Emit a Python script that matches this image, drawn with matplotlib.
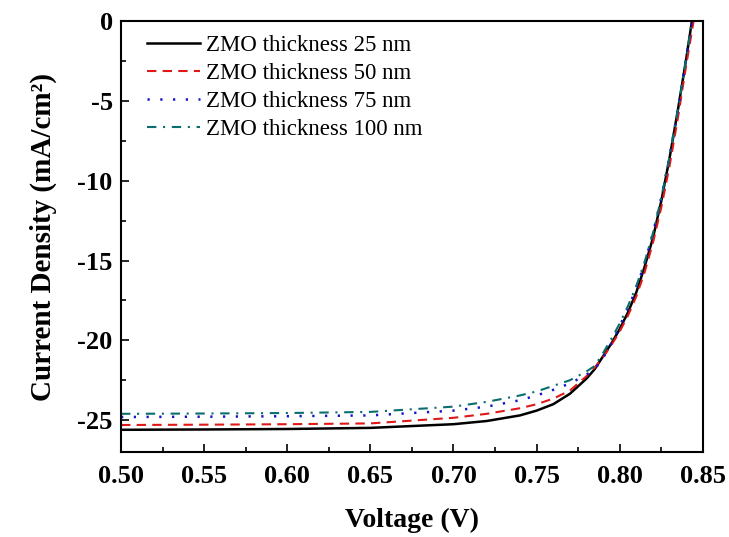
import numpy as np
import matplotlib
matplotlib.use("Agg")
import matplotlib.pyplot as plt
from matplotlib.ticker import MultipleLocator

plt.rcParams['font.family'] = ['Liberation Serif', 'DejaVu Serif']
plt.rcParams['axes.unicode_minus'] = False

# J-V data (V in volts, J in mA/cm2)
v_25 = [0.50, 0.55, 0.60, 0.65, 0.70, 0.72, 0.74, 0.75, 0.76, 0.77, 0.78, 0.785, 0.79,
        0.795, 0.80, 0.805, 0.81, 0.815, 0.82, 0.825, 0.83, 0.835, 0.84, 0.8435]
j_25 = [-25.60, -25.58, -25.55, -25.48, -25.25, -25.05, -24.70, -24.40, -24.00, -23.35,
        -22.40, -21.80, -21.00, -20.20, -19.30, -18.25, -17.00, -15.40, -13.60, -11.30,
        -8.60, -5.60, -2.40, 0.0]

v_50 = [0.50, 0.55, 0.60, 0.65, 0.70, 0.72, 0.74, 0.75, 0.76, 0.77, 0.78, 0.785, 0.79,
        0.795, 0.80, 0.805, 0.81, 0.815, 0.82, 0.825, 0.83, 0.835, 0.84, 0.8445]
j_50 = [-25.30, -25.28, -25.25, -25.20, -24.85, -24.60, -24.25, -24.00, -23.65, -23.15,
        -22.25, -21.70, -21.05, -20.30, -19.45, -18.45, -17.25, -15.75, -13.90, -11.70,
        -9.10, -6.10, -2.80, 0.0]

v_75 = [0.50, 0.55, 0.60, 0.65, 0.70, 0.72, 0.74, 0.75, 0.76, 0.77, 0.78, 0.785, 0.79,
        0.795, 0.80, 0.805, 0.81, 0.815, 0.82, 0.825, 0.83, 0.835, 0.84, 0.8435]
j_75 = [-24.80, -24.78, -24.75, -24.70, -24.40, -24.15, -23.75, -23.45, -23.10, -22.70,
        -22.15, -21.80, -21.10, -20.20, -19.10, -18.05, -16.70, -15.20, -13.30, -11.10,
        -8.50, -5.60, -2.40, 0.0]

v_100 = [0.50, 0.55, 0.60, 0.65, 0.70, 0.72, 0.74, 0.75, 0.76, 0.77, 0.78, 0.785, 0.79,
         0.795, 0.80, 0.805, 0.81, 0.815, 0.82, 0.825, 0.83, 0.835, 0.84, 0.8435]
j_100 = [-24.60, -24.58, -24.55, -24.48, -24.15, -23.85, -23.45, -23.20, -22.85, -22.50,
         -21.95, -21.60, -20.80, -19.90, -18.95, -17.85, -16.60, -15.10, -13.30, -11.10,
         -8.50, -5.60, -2.40, 0.0]

labels = ['ZMO thickness 25 nm', 'ZMO thickness 50 nm',
          'ZMO thickness 75 nm', 'ZMO thickness 100 nm']

fig = plt.figure(figsize=(7.29, 5.37), dpi=100)
ax = fig.add_axes([0.166, 0.158, 0.798, 0.803])

lw = 1.5
ax.plot(v_25, j_25, color='black', lw=1.8, linestyle='-', label=labels[0])
ax.plot(v_50, j_50, color='#e01818', lw=lw, linestyle=(0, (4.5, 3)), label=labels[1])
ax.plot(v_75, j_75, color='#1414c8', lw=1.8, linestyle=(0, (0.9, 4.2)), label=labels[2])
ax.plot(v_100, j_100, color='#0a6e6e', lw=lw, linestyle=(0, (4.5, 3.2, 1, 3.2)),
        label=labels[3])

ax.set_xlim(0.50, 0.85)
ax.set_ylim(-27, 0)
ax.xaxis.set_major_locator(MultipleLocator(0.05))
ax.xaxis.set_minor_locator(MultipleLocator(0.025))
ax.yaxis.set_major_locator(MultipleLocator(5))
ax.yaxis.set_minor_locator(MultipleLocator(2.5))
ax.xaxis.set_major_formatter(plt.FormatStrFormatter('%.2f'))

ax.tick_params(which='major', direction='in', length=6, width=1.2,
               labelsize=19, top=False, right=False)
ax.tick_params(which='minor', direction='in', length=3.5, width=1.2,
               top=False, right=False)
ax.tick_params(axis='x', which='major', pad=9)
ax.tick_params(axis='y', which='major', pad=6)
for lab in ax.get_xticklabels() + ax.get_yticklabels():
    lab.set_fontweight('bold')
for sp in ax.spines.values():
    sp.set_linewidth(1.5)

ax.set_xlabel('Voltage (V)', fontsize=20, fontweight='bold')
ax.set_ylabel('Current Density (mA/cm\u00b2)', fontsize=21, fontweight='bold')
ax.xaxis.set_label_coords(0.5, -0.13)
ax.yaxis.set_label_coords(-0.11, 0.5)

ax.legend(loc='upper left', bbox_to_anchor=(0.045, 0.968), frameon=False,
          fontsize=16.5, handlelength=2.3, handletextpad=0.25, labelspacing=0.3,
          borderaxespad=0, borderpad=0)

fig.savefig('out.png', dpi=100)
